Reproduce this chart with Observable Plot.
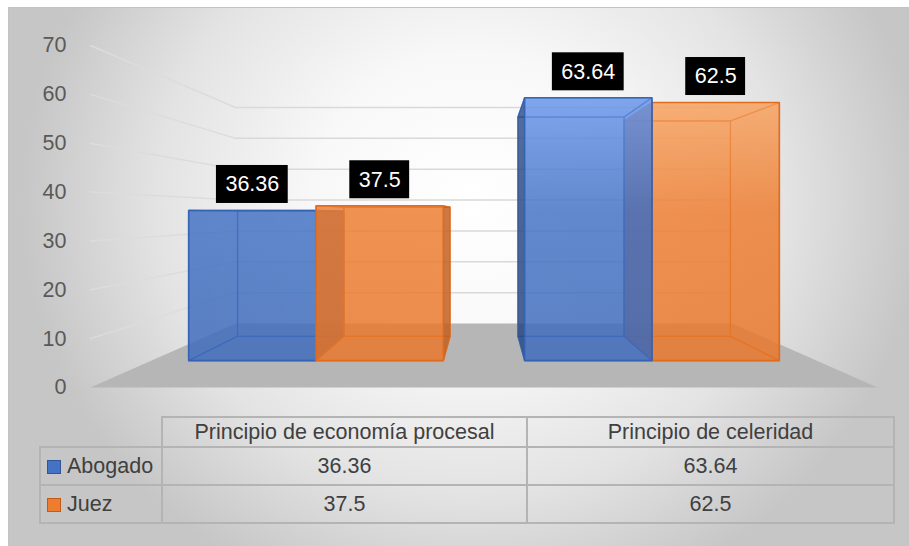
<!DOCTYPE html>
<html>
<head>
<meta charset="utf-8">
<script src="https://cdn.jsdelivr.net/npm/d3@7"></script>
<script src="https://cdn.jsdelivr.net/npm/@observablehq/plot@0.6"></script>
<style>
  body { margin: 0; background: #ffffff; font-family: "Liberation Sans", Arial, sans-serif; }
  #wrap { position: relative; width: 909px; height: 546px; overflow: hidden; background: #fff; }
  #frame {
    position: absolute; left: 8px; top: 7px; width: 930px; height: 560px;
    border-top: 1.5px solid #c3c3c3; border-left: 1.5px solid #c3c3c3;
    background: radial-gradient(ellipse 450px 420px at 462px 193px, #ffffff 0%, #f8f8f8 35%, #e3e3e3 70%, #c6c6c6 100%);
  }
  #chart { position: absolute; left: 0; top: 0; }
  #tbl {
    position: absolute; left: 39px; top: 416px; border-collapse: collapse; table-layout: fixed;
    width: 854px; font-size: 21.5px; color: #404040; font-family: "Liberation Sans", Arial, sans-serif;
  }
  #tbl td { border: 2px solid #b4b4b4; padding: 0; text-align: center; white-space: nowrap; }
  #tbl td.blank { border-top: none; border-left: none; }
  #tbl td.rowlab { text-align: left; padding-left: 6px; }
  .key { display: inline-block; width: 12px; height: 12px; margin-right: 6px; vertical-align: -1px; }
</style>
</head>
<body>
<svg width="0" height="0" style="position:absolute">
  <defs>
    <linearGradient id="gBlue" gradientUnits="userSpaceOnUse" x1="0" y1="90" x2="0" y2="360">
      <stop offset="0" stop-color="#6a99ee"/>
      <stop offset="0.45" stop-color="#4472c4"/>
      <stop offset="1" stop-color="#3f6bbb"/>
    </linearGradient>
    <linearGradient id="gOrange" gradientUnits="userSpaceOnUse" x1="0" y1="90" x2="0" y2="360">
      <stop offset="0" stop-color="#f9a664"/>
      <stop offset="0.45" stop-color="#ed7d31"/>
      <stop offset="1" stop-color="#e9772b"/>
    </linearGradient>
  </defs>
</svg>
<div id="wrap">
  <div id="frame"></div>
  <div id="chart"></div>
</div>
<script>
// ---------- data ----------
const categories = ["Principio de economía procesal", "Principio de celeridad"];
const seriesNames = ["Abogado", "Juez"];
const abogado = [36.36, 63.64];
const juez = [37.5, 62.5];
const yTicks = [0, 10, 20, 30, 40, 50, 60, 70];

// ---------- styles ----------
const seriesFill = ["url(#gBlue)", "url(#gOrange)"];
const seriesStroke = ["#3462b5", "#e0691a"];
const seriesSide = ["#1f3864", "#b0531a"];
const seriesKey = ["#4472c4", "#ed7d31"];
const seriesKeyBorder = ["#2f5597", "#c55a11"];
const FS = 21.5;

// ---------- 3D perspective helpers (domain units) ----------
const VX = 1.0;      // vanishing x (x-domain units)
const VV = 35.55;    // eye level (value units)
const SHRINK = 0.3684;
const k = t => 1 - SHRINK * t;
const P = (x, v, t) => ({X: VX + k(t) * (x - VX), V: VV + k(t) * (v - VV)});

const T_FRONT = 0.42, T_BACK = 0.80, BAR_W = 0.383, GROUP_SPREAD = 1.01;
const X_MIN = 0, X_MAX = 2;
const W = 909, H = 405, ML = 90, MR = 32, MT = 45, MB = 18;
const pxPerX = (W - ML - MR) / (X_MAX - X_MIN);

const series = [abogado, juez];
const bars = [];
categories.forEach((cat, g) => {
  const c = VX + (g - 0.5) * GROUP_SPREAD;
  series.forEach((vals, s) => {
    const x0 = c - BAR_W + s * BAR_W, x1 = x0 + BAR_W;
    bars.push({g, s, x0, x1, v: vals[g], cx: (x0 + x1) / 2});
  });
});

function boxFaces(b) {
  const {x0, x1, v} = b, tf = T_FRONT, tb = T_BACK;
  return [
    {kind: "back",   pts: [P(x0,0,tb), P(x1,0,tb), P(x1,v,tb), P(x0,v,tb)]},
    {kind: "bottom", pts: [P(x0,0,tf), P(x1,0,tf), P(x1,0,tb), P(x0,0,tb)]},
    {kind: "top",    pts: [P(x0,v,tf), P(x1,v,tf), P(x1,v,tb), P(x0,v,tb)]},
    {kind: "left",   pts: [P(x0,0,tf), P(x0,0,tb), P(x0,v,tb), P(x0,v,tf)], lit: x0 > VX},
    {kind: "right",  pts: [P(x1,0,tf), P(x1,0,tb), P(x1,v,tb), P(x1,v,tf)], lit: x1 < VX},
    {kind: "front",  pts: [P(x0,0,tf), P(x1,0,tf), P(x1,v,tf), P(x0,v,tf)]}
  ];
}

// painter order: farthest from vanishing point first
const drawOrder = bars.slice().sort((a, b) => Math.abs(b.cx - VX) - Math.abs(a.cx - VX));

const barMarks = [];
for (const b of drawOrder) {
  for (const f of boxFaces(b)) {
    barMarks.push(Plot.line(f.pts, {
      x: "X", y: "V", curve: "linear-closed",
      fill: f.lit ? seriesSide[b.s] : seriesFill[b.s],
      fillOpacity: 0.6,
      stroke: seriesStroke[b.s],
      strokeOpacity: f.kind === "front" ? 0.95 : 0.7,
      strokeWidth: f.kind === "front" ? 1.6 : 1.2,
      strokeLinejoin: "miter"
    }));
  }
}

// floor and walls
const floorPts = [P(X_MIN,0,0), P(X_MAX,0,0), P(X_MAX,0,1), P(X_MIN,0,1)];
const backGrid = yTicks.filter(v => v > 0).flatMap(v => [
  {id: v, ...P(X_MIN, v, 1)}, {id: v, ...P(X_MAX, v, 1)}
]);
const sideGrid = yTicks.filter(v => v > 0).flatMap(v => [
  {id: v, ...P(X_MIN, v, 0)}, {id: v, ...P(X_MIN, v, 1)}
]);

// data labels
const ctx = document.createElement("canvas").getContext("2d");
ctx.font = `${FS}px "Liberation Sans"`;
const labels = bars.map(b => {
  const text = String(b.v);
  const w = ctx.measureText(text).width + 18;
  const top = P(b.cx, b.v, T_FRONT);
  return {text, x: top.X, V: top.V, x1: top.X - w / 2 / pxPerX, x2: top.X + w / 2 / pxPerX};
});

const chart = Plot.plot({
  width: W, height: H,
  marginLeft: ML, marginRight: MR, marginTop: MT, marginBottom: MB,
  x: {domain: [X_MIN, X_MAX], axis: null, label: null},
  y: {domain: [0, 70], axis: null, label: null},
  style: {background: "transparent", fontFamily: '"Liberation Sans", Arial, sans-serif', overflow: "visible"},
  marks: [
    Plot.line(floorPts, {x: "X", y: "V", curve: "linear-closed", fill: "#b6b6b6", stroke: "none"}),
    Plot.line(backGrid, {x: "X", y: "V", z: "id", stroke: "#d9d9d9", strokeWidth: 1.5}),
    Plot.line(sideGrid, {x: "X", y: "V", z: "id", stroke: "#dcdcdc", strokeWidth: 1.5}),
    ...barMarks,
    Plot.rect(labels, {x1: "x1", x2: "x2", y1: "V", y2: "V", insetTop: -45, insetBottom: 7, fill: "#000"}),
    Plot.text(labels, {x: "x", y: "V", text: "text", dy: -26, fill: "#fff", fontSize: FS}),
    Plot.axisY({ticks: yTicks, tickSize: 0, tickPadding: 24, fontSize: FS, color: "#595959", label: null, tickFormat: d => String(d)})
  ]
});
document.getElementById("chart").appendChild(chart);

// data table below the chart
const tbl = document.createElement("table");
tbl.id = "tbl";
const cg = document.createElement("colgroup");
[122, 365, 367].forEach(w => { const c = document.createElement("col"); c.style.width = w + "px"; cg.appendChild(c); });
tbl.appendChild(cg);
const hr = tbl.insertRow();
hr.style.height = "30px";
const blank = hr.insertCell(); blank.className = "blank";
categories.forEach(c => { const td = hr.insertCell(); td.textContent = c; });
series.forEach((vals, s) => {
  const tr = tbl.insertRow();
  tr.style.height = "38px";
  const lab = tr.insertCell(); lab.className = "rowlab";
  const key = document.createElement("span");
  key.className = "key";
  key.style.background = seriesKey[s];
  key.style.border = "1px solid " + seriesKeyBorder[s];
  lab.appendChild(key);
  lab.appendChild(document.createTextNode(seriesNames[s]));
  vals.forEach(v => { const td = tr.insertCell(); td.textContent = String(v); });
});
document.getElementById("wrap").appendChild(tbl);
</script>
</body>
</html>
